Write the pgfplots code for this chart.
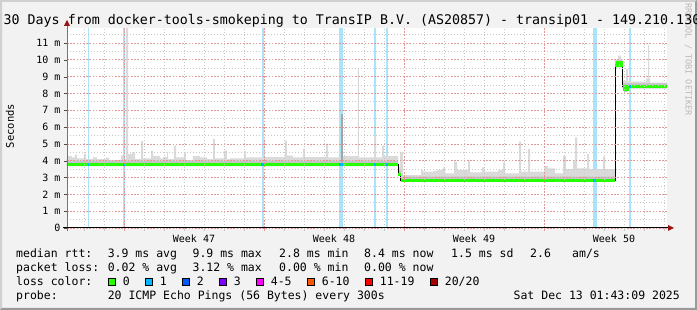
\documentclass[border=0pt]{standalone}
\usepackage{fontspec}
\setmainfont{DejaVu Sans Mono}
\usepackage{pgfplots}
\pgfplotsset{compat=1.18}
\usepackage{pgfplotstable}

\definecolor{bgc}{RGB}{242,242,242}
\definecolor{shadea}{RGB}{208,208,208}
\definecolor{shadeb}{RGB}{154,154,154}
\definecolor{gridc}{RGB}{200,200,200}
\definecolor{mgridc}{RGB}{226,150,150}
\definecolor{smoke}{RGB}{218,218,218}
\definecolor{smokein}{RGB}{196,196,196}
\definecolor{spikedark}{RGB}{165,165,165}
\definecolor{lossband}{RGB}{170,228,250}
\definecolor{wmc}{RGB}{185,185,185}
\definecolor{lc0}{HTML}{26FF00}
\definecolor{lc1}{HTML}{00B8FF}
\definecolor{lc2}{HTML}{0059FF}
\definecolor{lc3}{HTML}{7E00FF}
\definecolor{lc4}{HTML}{FF00FF}
\definecolor{lc6}{HTML}{FF5500}
\definecolor{lc11}{HTML}{FF0000}
\definecolor{lc20}{HTML}{A00000}
\definecolor{arrowc}{RGB}{150,20,20}

% smoke area: upper envelope left to right, then lower envelope right to left (px position, ms)
\pgfplotstableread{
px ms
67 4.28
72 4.2
75 4.36
77 4.14
84 4.4
86 4.1
93 4.2
97 4.1
106 4.18
109 4.04
121 4.32
123 4.1
126 11.89
128 4.4
132 4.5
135 4.1
141 5.17
143 4.14
151 4.6
153 4.28
160 4.14
163 4.22
167 4.5
168 4.1
174 4.9
176 4.2
184 4.5
186 4.04
193 4.28
200 4.2
207 4.1
213 5.3
215 4.14
224 4.6
227 4.1
230 4.14
244 4.57
246 4.2
263 5.3
265 4.22
285 5.2
287 4.3
293 4.2
303 4.7
305 4.22
326 5.0
328 4.2
343 4.28
358 9.5
359 4.2
374 5.5
376 4.2
382 4.9
384 4.28
398 3.6
400 4.5
403 3.15
421 3.45
423 3.35
433 3.4
437 3.45
443 3.6
445 3.25
454 3.94
457 3.45
468 4.0
470 3.3
482 3.6
484 3.35
498 3.45
503 3.9
505 3.25
519 5.13
521 3.35
528 4.7
530 3.35
544 3.7
548 3.55
555 3.25
563 4.28
566 3.5
573 4.04
575 5.39
577 3.55
587 4.4
589 3.5
603 4.25
605 3.5
615 10.0
618 10.25
621 10.0
623 8.75
626 9.45
628 8.7
646 8.9
648 10.88
649 8.9
650 8.64
667 8.64
667 8.3
627.5 8.3
627.5 8.1
624 8.1
624 8.3
622.5 8.3
622.5 9.55
615 9.55
615 2.75
400.5 2.75
400.5 3.1
398 3.1
398 3.68
67 3.68
}\smokearea

\pgfplotstableread{
px ms
67 4.0
398 3.45
400.5 3.05
615 9.95
622.5 8.6
667 8.6
667 8.3
627.5 8.3
627.5 8.1
624 8.1
624 8.3
622.5 8.3
622.5 9.55
615 9.55
615 2.75
400.5 2.75
400.5 3.1
398 3.1
398 3.68
67 3.68
}\smokeinner

\pgfplotstableread{
px ms
67 3.8
398 3.2
400.5 2.85
615 9.69
617 9.85
621 9.69
622.5 8.44
624 8.25
627.5 8.44
667 8.44
}\median

\pgfplotstableread{
px ms
67 3.8
398 3.8
398 nan
398 3.2
400.5 3.2
400.5 nan
400.5 2.85
615 2.85
615 nan
615 9.69
617 9.69
617 9.85
621 9.85
621 9.69
622.5 9.69
622.5 nan
622.5 8.44
624 8.44
624 8.25
627.5 8.25
627.5 8.44
667 8.44
}\mediangreen

\pgfplotstableread{
px ms
87.5 3.8
89 3.8
89 nan
123 3.8
125 3.8
125 nan
261.5 3.8
263.5 3.8
263.5 nan
339 3.8
343 3.8
343 nan
374 3.8
376 3.8
376 nan
386 3.8
388 3.8
388 nan
593 2.85
596 2.85
596 nan
629 8.44
631 8.44
}\medianblue

\newcommand{\lossbar}[2]{\addplot[fill=lossband, draw=none] coordinates {(#1,0) (#1,11.892) (#2,11.892) (#2,0)} -- cycle;}

\begin{document}
\begin{tikzpicture}[x=1pt,y=1pt]
\fill[bgc] (0,0) rectangle (697,310);
\fill[shadea] (0,0) -- (0,310) -- (697,310) -- (695,308) -- (2,308) -- (2,2) -- cycle;
\fill[shadeb] (0,0) -- (697,0) -- (697,310) -- (695,308) -- (695,2) -- (2,2) -- cycle;
\fill[white] (67,82) rectangle (667,282);

\node[rotate=-90, anchor=west, inner sep=0pt, font=\fontsize{8.5}{10}\selectfont, text=wmc] at (688.5,307) {RRDTOOL / TOBI OETIKER};

\begin{axis}[
  at={(67pt,82pt)}, anchor=south west,
  scale only axis, width=600pt, height=200pt,
  xmin=0, xmax=30, ymin=0, ymax=11.892,
  axis line style={draw=none},
  axis on top,
  clip=true,
  tick label style={font=\fontsize{10}{12}\selectfont, text=black},
  xtick pos=bottom, ytick pos=left,
  tick align=outside,
  major tick length=3pt, minor tick length=3pt,
  xtick={6.35,13.35,20.35,27.35},
  xticklabels={Week 47,Week 48,Week 49,Week 50},
  major x tick style={draw=none},
  xticklabel style={yshift=-0.5pt},
  minor xtick={0.85,1.85,3.85,4.85,5.85,6.85,7.85,8.85,10.85,11.85,12.85,13.85,14.85,15.85,17.85,18.85,19.85,20.85,21.85,22.85,24.85,25.85,26.85,27.85,28.85,29.85},
  minor x tick style={gridc},
  xminorgrids=true,
  extra x ticks={2.85,9.85,16.85,23.85},
  extra x tick labels={},
  extra x tick style={grid=major, major x tick style={draw=mgridc}},
  ytick={0,1,2,3,4,5,6,7,8,9,10,11},
  yticklabels={0,1 m,2 m,3 m,4 m,5 m,6 m,7 m,8 m,9 m,10 m,11 m},
  minor ytick={0.5,1.5,2.5,3.5,4.5,5.5,6.5,7.5,8.5,9.5,10.5,11.5},
  ymajorgrids=true, yminorgrids=true,
  major y tick style={draw=black!70},
  minor y tick style={draw=none},
  major grid style={mgridc, line width=0.8pt, dash pattern=on 1.6pt off 1.6pt},
  minor grid style={gridc, line width=0.8pt, dash pattern=on 1pt off 2pt},
]
% loss bars
\lossbar{1.025}{1.1}
\lossbar{2.8}{2.875}
\lossbar{9.725}{9.825}
\lossbar{13.6}{13.8}
\lossbar{15.35}{15.45}
\lossbar{15.925}{16.05}
\lossbar{26.3}{26.475}
\lossbar{28.1}{28.2}

% smoke
\addplot[fill=smoke, draw=none, const plot mark left] table[x expr=(\thisrow{px}-67)/20, y=ms] {\smokearea};
\addplot[fill=smokein, draw=none, const plot mark left] table[x expr=(\thisrow{px}-67)/20, y=ms] {\smokeinner};
\addplot[fill=spikedark, draw=none] coordinates {(13.7,3.9) (13.7,6.8) (13.8,6.8) (13.8,3.9)} -- cycle;

% median
\addplot[black, line width=1pt, const plot mark left] table[x expr=(\thisrow{px}-67)/20, y=ms] {\median};
\addplot[lc0, line width=3pt, unbounded coords=jump] table[x expr=(\thisrow{px}-67)/20, y=ms] {\mediangreen};
\addplot[lc1, line width=3pt, unbounded coords=jump] table[x expr=(\thisrow{px}-67)/20, y=ms] {\medianblue};
\end{axis}

% axes lines and arrows
\draw[black!55, line width=1pt] (67,79) -- (67,285);
\draw[black, line width=1pt] (63,82) -- (669,82);
\fill[arrowc] (668,79) -- (668,85) -- (674,82) -- cycle;
\fill[arrowc] (64,284) -- (70,284) -- (67,290) -- cycle;

% y label
\node[rotate=90, inner sep=0pt, font=\fontsize{10.5}{12}\selectfont] at (10,184) {Seconds};

% title
\node[anchor=base west, inner sep=0pt, font=\fontsize{13.3}{15}\selectfont] at (3.5,285.7) {30 Days from docker-tools-smokeping to TransIP B.V. (AS20857) - transip01 - 149.210.130};

% legend
\begin{scope}[every node/.style={anchor=base west, inner sep=0pt, font=\fontsize{11.5}{13}\selectfont}]
\node at (16,52) {median rtt:};
\node at (107.6,52) {3.9 ms avg};
\node at (192.4,52) {9.9 ms max};
\node at (279,52) {2.8 ms min};
\node at (364,52) {8.4 ms now};
\node at (451,52) {1.5 ms sd};
\node at (530,52) {2.6};
\node at (572,52) {am/s};

\node at (16,38) {packet loss:};
\node at (107.6,38) {0.02 \% avg};
\node at (192.4,38) {3.12 \% max};
\node at (279,38) {0.00 \% min};
\node at (364,38) {0.00 \% now};

\node at (16,24) {loss color:};
\node at (122.7,24) {0};
\node at (159.7,24) {1};
\node at (196.7,24) {2};
\node at (233.7,24) {3};
\node at (270.7,24) {4-5};
\node at (321.7,24) {6-10};
\node at (379.7,24) {11-19};
\node at (444.7,24) {20/20};

\node at (16,10) {probe:};
\node at (107.6,10) {20 ICMP Echo Pings (56 Bytes) every 300s};
\node[anchor=base east] at (680,10) {Sat Dec 13 01:43:09 2025};
\end{scope}
\foreach \bx/\bc in {108/lc0,145/lc1,182/lc2,219/lc3,256/lc4,307/lc6,365/lc11,430/lc20}{
  \filldraw[fill=\bc, draw=black, line width=0.6pt] (\bx+0.3,24.3) rectangle (\bx+7.7,31.7);
}
\pgfresetboundingbox
\path[use as bounding box] (0,0) rectangle (697,310);
\end{tikzpicture}
\end{document}
